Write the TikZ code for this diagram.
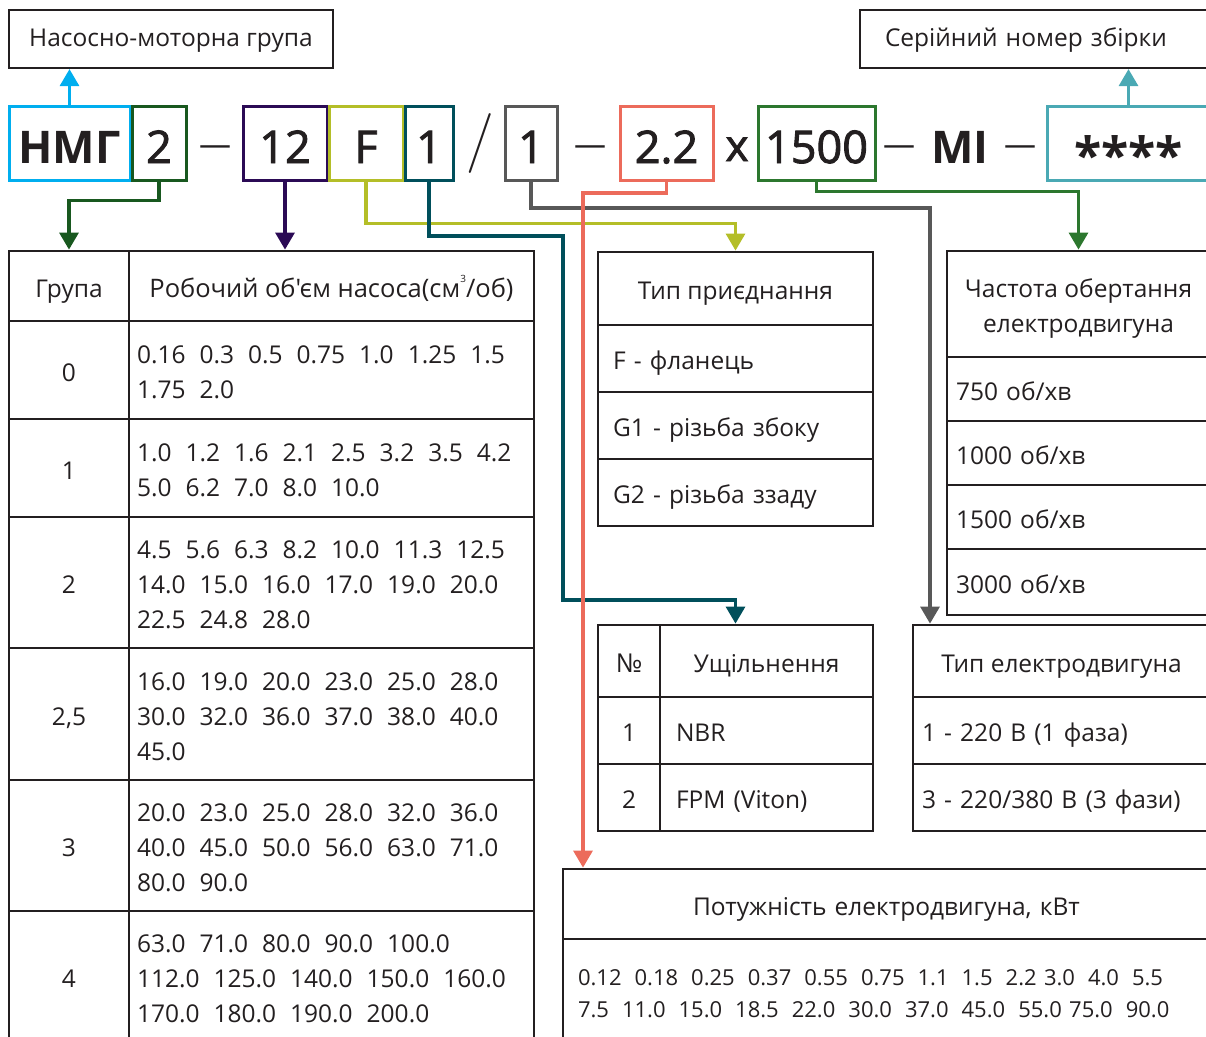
\documentclass[tikz,border=0pt]{standalone}
\usepackage{fontspec}
\newfontfamily\osf{Open Sans}
\newfontfamily\osfm{Open Sans}[FakeBold=2]
\usetikzlibrary{arrows.meta}
\definecolor{ink}{HTML}{231F20}
\definecolor{cnmg}{HTML}{00AEEF}
\definecolor{cgrp}{HTML}{18581F}
\definecolor{cvol}{HTML}{2B0A55}
\definecolor{cconn}{HTML}{B4BE28}
\definecolor{cseal}{HTML}{004F5B}
\definecolor{cmot}{HTML}{585858}
\definecolor{cpow}{HTML}{EC6B5B}
\definecolor{cfreq}{HTML}{2C772E}
\definecolor{cser}{HTML}{4AA9B4}
\newcommand\gp{\hspace{14pt}}
\newcommand\gq{\hspace{13pt}}
\newcommand\st{\rule[-6pt]{0pt}{34pt}}
\newcommand\stt{\rule[-6pt]{0pt}{27pt}}
\newcommand\sd{\rule[-6pt]{0pt}{0pt}}
\begin{document}
\begin{tikzpicture}[x=1pt,y=-1pt,
  txt/.style={font=\osf\fontsize{24.5}{35}\selectfont, text=ink},
  cbox/.style={draw, line width=3pt, minimum height=74pt, inner sep=0pt, text height=40pt, text depth=0pt, text=ink, font=\osfm\fontsize{45}{45}\selectfont},
  sym/.style={text=ink, inner sep=0pt},
  dsh/.style={sym, anchor=base, font=\osf\fontsize{32}{32}\selectfont},
  tcell/.style={draw=ink, line width=1.6pt, inner sep=0pt, txt},
  thead/.style={draw=ink, line width=2.8pt, inner sep=0pt, txt},
  topbox/.style={draw=ink, line width=2.2pt, minimum height=58pt, txt},
  gcell/.style={tcell, minimum width=120pt},
  vcell/.style={tcell, minimum width=405pt, text width=389pt, inner xsep=8pt, align=left},
  mcell/.style={tcell, minimum width=275pt, text width=245pt, inner xsep=15pt, align=left, minimum height=67pt},
  ncell/.style={tcell, minimum width=62pt, minimum height=67pt},
  scell/.style={tcell, minimum width=213pt, text width=181pt, inner xsep=16pt, align=left, minimum height=67pt},
  fcell/.style={tcell, minimum width=263pt, text width=245pt, inner xsep=9pt, align=left},
  mtcell/.style={tcell, minimum width=297pt, text width=279pt, inner xsep=9pt, align=left, minimum height=67pt},
  conn/.style={line width=3.2pt, -{Triangle[length=17pt,width=19pt]}}
]
\useasboundingbox (0,0) rectangle (1206,1036);
\clip (0,0) rectangle (1206,1036);

% top boxes
\node[topbox, minimum width=324pt] (topL) at (171,39) {\stt Насосно-моторна група};
\node[topbox, minimum width=350pt, text width=300pt, inner xsep=25pt, align=left] (topR) at (1035,39) {\stt Серійний номер збірки};

% code row
\node[cbox, draw=cnmg, minimum width=121pt, font=\osf\bfseries\fontsize{45}{45}\selectfont] (nmg) at (69.5,143) {НМГ};
\node[cbox, draw=cgrp, minimum width=54pt] (cgr) at (159,143) {2};
\node[dsh] (d1) at (215,155) {—};
\node[cbox, draw=cvol, minimum width=84pt] (cvl) at (285,143) {12};
\node[cbox, draw=cconn, minimum width=74pt] (ccn) at (366,143) {F};
\node[cbox, draw=cseal, minimum width=48pt] (csl) at (429,143) {1};
\node[sym, font=\fontsize{60}{60}\selectfont] (sl) at (480.5,143) {/};
\node[cbox, draw=cmot, minimum width=52pt] (cmt) at (531,143) {1};
\node[dsh] (d2) at (590,155) {—};
\node[cbox, draw=cpow, minimum width=93pt] (cpw) at (666.5,143) {2.2};
\node[sym, anchor=base, font=\osfm\fontsize{44}{44}\selectfont] (xx) at (737,161) {x};
\node[cbox, draw=cfreq, minimum width=117pt] (cfq) at (816.5,143) {1500};
\node[dsh] (d3) at (899,155) {—};
\node[sym, anchor=base, font=\osf\bfseries\fontsize{45}{45}\selectfont] (mi) at (960,163) {MI};
\node[dsh] (d4) at (1020,155) {—};
\node[cbox, draw=cser, minimum width=163pt, font=\osf\bfseries\fontsize{50}{50}\selectfont] (csr) at (1128.5,143) {\raisebox{-10pt}{****}};

% left table body
\node[gcell, minimum height=98pt] (g0) at (69,370) {\st 0};
\node[vcell, minimum height=98pt] (v0) at (331.5,370) {\st 0.16\gp 0.3\gp 0.5\gp 0.75\gp 1.0\gp 1.25\gp 1.5\\\sd 1.75\gp 2.0};
\node[gcell, minimum height=98pt] (g1) at (69,468) {\st 1};
\node[vcell, minimum height=98pt] (v1) at (331.5,468) {\st 1.0\gp 1.2\gp 1.6\gp 2.1\gp 2.5\gp 3.2\gp 3.5\gp 4.2\\\sd 5.0\gp 6.2\gp 7.0\gp 8.0\gp 10.0};
\node[gcell, minimum height=131pt] (g2) at (69,582.5) {\st 2};
\node[vcell, minimum height=131pt] (v2) at (331.5,582.5) {\st 4.5\gp 5.6\gp 6.3\gp 8.2\gp 10.0\gp 11.3\gp 12.5\\14.0\gp 15.0\gp 16.0\gp 17.0\gp 19.0\gp 20.0\\\sd 22.5\gp 24.8\gp 28.0};
\node[gcell, minimum height=132pt] (g25) at (69,714) {\st 2,5};
\node[vcell, minimum height=132pt] (v25) at (331.5,714) {\st 16.0\gp 19.0\gp 20.0\gp 23.0\gp 25.0\gp 28.0\\30.0\gp 32.0\gp 36.0\gp 37.0\gp 38.0\gp 40.0\\\sd 45.0};
\node[gcell, minimum height=131pt] (g3) at (69,845.5) {\st 3};
\node[vcell, minimum height=131pt] (v3) at (331.5,845.5) {\st 20.0\gp 23.0\gp 25.0\gp 28.0\gp 32.0\gp 36.0\\40.0\gp 45.0\gp 50.0\gp 56.0\gp 63.0\gp 71.0\\\sd 80.0\gp 90.0};
\node[gcell, minimum height=131pt] (g4) at (69,976.5) {\st 4};
\node[vcell, minimum height=131pt] (v4) at (331.5,976.5) {\st 63.0\gp 71.0\gp 80.0\gp 90.0\gp 100.0\\112.0\gp 125.0\gp 140.0\gp 150.0\gp 160.0\\\sd 170.0\gp 180.0\gp 190.0\gp 200.0};
\node[thead, minimum width=120pt, minimum height=70pt] (hgroup) at (69,286) {\st Група};
\node[thead, minimum width=405pt, minimum height=70pt, font=\osf\fontsize{25.5}{35}\selectfont] (hvol) at (331.5,286) {\st Робочий об'єм насоса(см\raisebox{0.55em}{\fontsize{10}{10}\selectfont 3}/об)};

% connection type table
\node[mcell] (cf) at (735.5,358.5) {\st F - фланець};
\node[mcell] (cg1) at (735.5,425.5) {\st G1 - різьба збоку};
\node[mcell] (cg2) at (735.5,492.5) {\st G2 - різьба ззаду};
\node[thead, minimum width=275pt, minimum height=73pt] (hconn) at (735.5,288.5) {\st Тип приєднання};

% seal table
\node[ncell] (n1) at (629,730.5) {\st 1};
\node[scell] (s1) at (766.5,730.5) {\st NBR};
\node[ncell] (n2) at (629,797.5) {\st 2};
\node[scell] (s2) at (766.5,797.5) {\st FPM (Viton)};
\node[thead, minimum width=275pt, minimum height=72pt] (hseal) at (735.5,661) {};
\draw[ink, line width=2.8pt] (660,625) -- (660,697);
\node[txt, inner sep=0pt, font=\osf\fontsize{26}{35}\selectfont] (hno) at (629,661) {\st №};
\node[txt, inner sep=0pt] (hsealt) at (766.5,661) {\st Ущільнення};

% frequency table
\node[fcell, minimum height=64pt] (f1) at (1078.5,389) {\st 750 об/хв};
\node[fcell, minimum height=64pt] (f2) at (1078.5,453) {\st 1000 об/хв};
\node[fcell, minimum height=64pt] (f3) at (1078.5,517) {\st 1500 об/хв};
\node[fcell, minimum height=66pt] (f4) at (1078.5,582) {\st 3000 об/хв};
\node[thead, minimum width=263pt, minimum height=106pt, align=center] (hfreq) at (1078.5,304) {\st Частота обертання\\\sd електродвигуна};

% motor type table
\node[mtcell] (m1) at (1061.5,730.5) {\st 1 - 220 В (1 фаза)};
\node[mtcell] (m2) at (1061.5,797.5) {\st 3 - 220/380 В (3 фази)};
\node[thead, minimum width=297pt, minimum height=72pt] (hmot) at (1061.5,661) {\st Тип електродвигуна};

% power table
\node[tcell, minimum width=647pt, minimum height=103pt, text width=617pt, inner xsep=15pt, align=left, font=\osf\fontsize{22}{32}\selectfont] (pw) at (886.5,990.5) {\st 0.12\gq 0.18\gq 0.25\gq 0.37\gq 0.55\gq 0.75\gq 1.1\gq 1.5\gq 2.2 3.0\gq 4.0\gq 5.5\\\sd 7.5\gq 11.0\gq 15.0\gq 18.5\gq 22.0\gq 30.0\gq 37.0\gq 45.0\gq 55.0 75.0\gq 90.0};
\node[thead, minimum width=647pt, minimum height=70pt, text width=387pt, inner xsep=130pt, align=left] (hpow) at (886.5,904) {\st Потужність електродвигуна, кВт};

% connectors
\draw[conn, cnmg] (nmg.north) -- (nmg.north |- topL.south);
\draw[conn, cser] (csr.north) -- (csr.north |- topR.south);
\draw[conn, cgrp] (cgr.south) -- ++(0,19) -| (hgroup.north);
\draw[conn, cvol] (cvl.south) -- (cvl.south |- hvol.north);
\draw[conn, cconn] (ccn.south) -- ++(0,42) -| (hconn.north);
\coordinate (tA) at (563,236);
\coordinate (tB) at (563,600);
\draw[conn, cseal] (csl.south) |- (tA) -- (tB) -| (hseal.north);
\coordinate (gA) at (930,208);
\draw[conn, cmot] (cmt.south) |- (gA) -- (gA |- hmot.north);
\draw[conn, cfreq] (cfq.south) -- ++(0,10) -| (hfreq.north);
\coordinate (sA) at (583,193);
\draw[conn, cpow] (cpw.south) |- (sA) -- (sA |- hpow.north);
\end{tikzpicture}
\end{document}
